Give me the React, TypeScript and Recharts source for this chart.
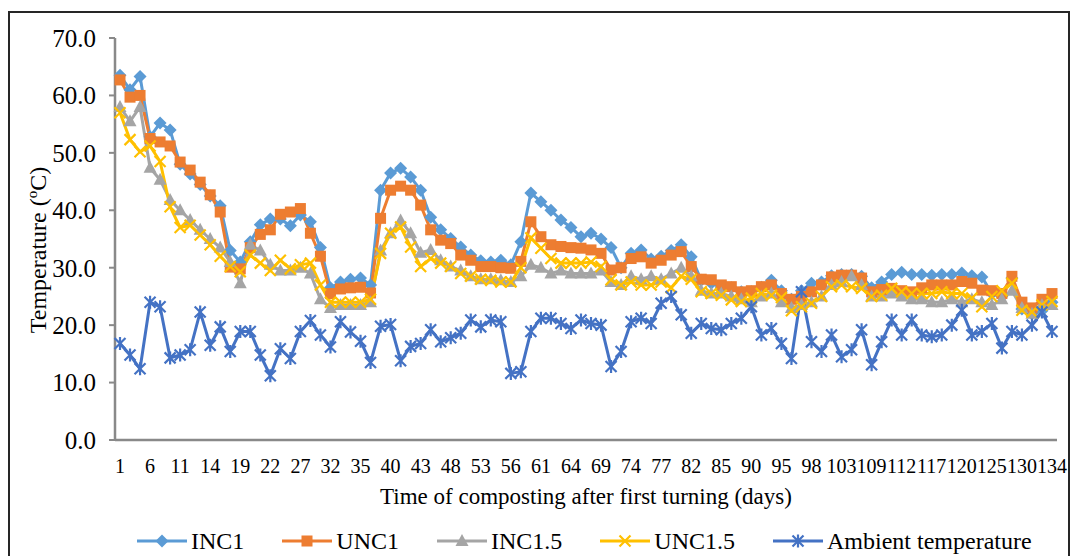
import React from 'react';
import { LineChart, Line, XAxis, YAxis, Label } from 'recharts';

// sampling days after first turning (only every third one is labelled on the axis)
const days = [
  '1', '3', '4', '6', '8', '9', '11', '12', '13', '14',
  '16', '17', '19', '20', '21', '22', '24', '25', '27', '29',
  '30', '32', '33', '34', '35', '37', '38', '40', '41', '42',
  '43', '45', '46', '48', '50', '51', '53', '54', '55', '56',
  '58', '59', '61', '62', '63', '64', '66', '67', '69', '71',
  '72', '74', '75', '76', '77', '79', '80', '82', '83', '84',
  '85', '87', '88', '90', '92', '93', '95', '96', '97', '98',
  '100', '101', '103', '105', '107', '109', '110', '111', '112', '114',
  '115', '117', '118', '119', '120', '122', '123', '125', '127', '128',
  '130', '131', '133', '134',
];

const inc1 = [
  63.5, 61.0, 63.3, 52.8, 55.2, 54.0, 48.0, 46.3, 44.5, 42.5,
  40.8, 33.0, 31.0, 34.5, 37.5, 38.5, 38.5, 37.3, 39.2, 38.0,
  33.5, 26.5, 27.5, 28.0, 28.2, 27.0, 43.5, 46.5, 47.3, 45.8,
  43.5, 38.8, 36.6, 35.1, 33.6, 32.2, 31.2, 31.0, 31.3, 30.5,
  34.5, 43.0, 41.5, 40.0, 38.3, 37.0, 35.4, 36.0, 35.0, 33.5,
  30.0, 32.5, 33.1, 31.5, 32.0, 33.0, 34.0, 31.9, 27.8, 27.3,
  26.5, 26.5, 25.8, 25.8, 26.6, 27.8, 26.0, 24.5, 26.0, 27.3,
  27.5, 28.6, 28.8, 28.8, 28.5, 26.5, 27.5, 28.8, 29.2, 28.8,
  28.8, 28.7, 28.8, 28.8, 29.1, 28.6, 28.4, 25.5, 25.0, 28.2,
  22.8, 22.0, 22.5, 24.0,
];

const unc1 = [
  62.7, 59.7, 60.0, 52.5, 51.9, 51.2, 48.4, 47.0, 44.9, 42.7,
  39.7, 30.1, 29.8, 33.5, 35.8, 36.6, 39.3, 39.7, 40.3, 36.0,
  32.0, 25.5, 26.3, 26.5, 26.6, 25.6, 38.6, 43.5, 44.2, 43.5,
  40.9, 36.6, 34.8, 34.2, 32.2, 31.3, 30.2, 30.2, 30.0, 29.9,
  31.1, 38.0, 35.4, 34.0, 33.7, 33.5, 33.4, 33.1, 32.5, 29.6,
  30.0, 31.6, 31.9, 30.8, 31.3, 32.2, 32.8, 30.2, 28.0, 27.9,
  27.0, 26.7, 25.8, 26.0, 26.7, 27.0, 25.5, 24.5, 25.0, 25.8,
  27.0, 28.4, 28.7, 28.7, 28.2, 25.8, 26.2, 26.4, 26.0, 25.8,
  26.5, 27.0, 27.0, 27.0, 27.6, 27.3, 26.1, 26.0, 25.5, 28.5,
  24.0, 23.0, 24.5, 25.5,
];

const inc15 = [
  58.0, 55.5, 58.0, 47.4, 45.3, 41.8, 40.0, 38.3, 36.6, 35.0,
  33.5, 31.0, 27.3, 34.0, 33.0, 30.5, 29.5, 29.5, 30.0, 29.0,
  24.5, 23.0, 23.5, 23.5, 23.5, 24.0, 33.0, 36.0, 38.2, 36.0,
  32.6, 33.1, 31.3, 30.2, 29.5, 28.5, 28.0, 28.0, 27.8, 27.5,
  28.5, 30.5, 30.0, 29.0, 29.5, 29.0, 29.0, 29.0, 29.5, 27.5,
  27.0, 28.5, 28.0, 28.5, 28.0, 29.0, 30.0, 28.5, 26.0, 25.5,
  25.5, 25.0, 24.5, 24.0, 25.0, 25.5, 24.0, 23.0, 23.5, 24.0,
  25.0, 27.0, 27.5, 28.5, 27.0, 25.0, 25.0, 25.5, 25.0, 24.5,
  24.5, 24.0, 24.0, 24.5, 24.0, 24.5, 24.0, 23.5, 24.5, 26.0,
  23.0, 22.0, 23.5, 23.5,
];

const unc15 = [
  57.0, 52.3, 50.2, 51.2, 48.5, 40.6, 37.0, 37.4, 35.7, 34.0,
  32.0, 30.2, 29.3, 32.2, 30.8, 29.5, 31.3, 29.8, 30.5, 30.8,
  27.0, 24.0, 24.0, 24.0, 24.0, 24.5, 32.5, 36.0, 37.1, 33.6,
  30.2, 31.6, 30.8, 30.2, 29.0, 28.5, 28.0, 27.8, 27.5, 27.5,
  30.0, 35.2, 33.4, 31.6, 30.8, 30.8, 30.8, 31.0, 30.2, 27.9,
  27.0, 27.5, 27.0, 27.0, 27.5, 26.5, 28.5, 28.0, 25.8, 25.5,
  25.2, 24.4, 24.1, 24.7, 25.5, 25.2, 24.8, 22.5, 23.2, 23.8,
  25.0, 26.7, 27.0, 26.7, 26.4, 25.0, 25.2, 26.4, 25.8, 25.5,
  25.5, 25.5, 25.8, 25.5, 25.5, 24.7, 23.2, 25.0, 26.0, 27.3,
  22.6, 22.3, 23.5, 24.1,
];

const ambient = [
  16.8, 14.8, 12.4, 24.0, 23.2, 14.3, 14.8, 15.7, 22.3, 16.5,
  19.7, 15.4, 18.9, 18.9, 14.8, 11.2, 15.9, 14.2, 18.9, 20.8,
  18.3, 16.2, 20.6, 18.8, 17.2, 13.5, 19.8, 20.1, 13.8, 16.3,
  16.8, 19.2, 17.1, 17.8, 18.6, 20.9, 19.7, 20.9, 20.6, 11.6,
  11.9, 18.9, 21.2, 21.2, 20.3, 19.4, 20.9, 20.3, 20.0, 12.8,
  15.4, 20.6, 21.2, 20.3, 23.8, 25.0, 21.8, 18.6, 20.3, 19.4,
  19.2, 20.3, 21.2, 23.2, 18.3, 19.4, 16.8, 14.2, 25.8, 17.1,
  15.4, 18.3, 14.5, 15.7, 19.2, 13.1, 17.1, 20.9, 18.3, 20.9,
  18.3, 18.0, 18.3, 20.0, 22.6, 18.3, 18.9, 20.3, 16.0, 18.9,
  18.3, 20.0, 22.3, 18.9,
];

const yTicks = [0, 10, 20, 30, 40, 50, 60, 70];

// the source axis draws a fine comb of minor ticks, one per day
const combTicks = Array.from({ length: 135 }, (_, i) => i);

type Shape = 'diamond' | 'square' | 'triangle' | 'x' | 'star';

const series: { key: string; name: string; color: string; shape: Shape; values: number[] }[] = [
  { key: 'inc1', name: 'INC1', color: '#5B9BD5', shape: 'diamond', values: inc1 },
  { key: 'unc1', name: 'UNC1', color: '#ED7D31', shape: 'square', values: unc1 },
  { key: 'inc15', name: 'INC1.5', color: '#A5A5A5', shape: 'triangle', values: inc15 },
  { key: 'unc15', name: 'UNC1.5', color: '#FFC000', shape: 'x', values: unc15 },
  { key: 'ambient', name: 'Ambient temperature', color: '#4472C4', shape: 'star', values: ambient },
];

const data = days.map((day, i) => {
  const row: Record<string, string | number> = { day };
  series.forEach((s) => {
    row[s.key] = s.values[i];
  });
  return row;
});

const FONT = 'Liberation Serif, DejaVu Serif';
const AXIS = '#898989';

function Marker({ shape, color, cx, cy }: { shape: Shape; color: string; cx: number; cy: number }) {
  if (shape === 'diamond') {
    const r = 6.5;
    return <path d={`M${cx},${cy - r}L${cx + r},${cy}L${cx},${cy + r}L${cx - r},${cy}Z`} fill={color} />;
  }
  if (shape === 'square') {
    return <rect x={cx - 5.5} y={cy - 5.5} width={11} height={11} fill={color} />;
  }
  if (shape === 'triangle') {
    return <path d={`M${cx},${cy - 7}L${cx + 6.5},${cy + 5}L${cx - 6.5},${cy + 5}Z`} fill={color} />;
  }
  const r = 5.5;
  let d = `M${cx - r},${cy - r}L${cx + r},${cy + r}M${cx - r},${cy + r}L${cx + r},${cy - r}`;
  if (shape === 'star') d += `M${cx},${cy - r - 1}L${cx},${cy + r + 1}`;
  return <path d={d} stroke={color} strokeWidth={2.2} fill="none" />;
}

const makeDot = (shape: Shape, color: string, key: string) => (props: any) => {
  const { cx, cy, index } = props;
  if (cx == null || cy == null) return <g key={`${key}-${index}`} />;
  return (
    <g key={`${key}-${index}`}>
      <Marker shape={shape} color={color} cx={cx} cy={cy} />
    </g>
  );
};

const YTitle = () => (
  <text
    x={46}
    y={250}
    transform="rotate(-90, 46, 250)"
    textAnchor="middle"
    style={{ fontFamily: FONT, fontSize: 24 }}
    fill="#000"
  >
    <tspan>Temperature (</tspan>
    <tspan style={{ fontSize: 15 }} dy={-9}>o</tspan>
    <tspan dy={9}>C)</tspan>
  </text>
);

function LegendRow() {
  return (
    <div
      style={{
        position: 'absolute',
        left: 137,
        top: 527,
        height: 28,
        display: 'flex',
        alignItems: 'center',
        gap: 38,
        fontFamily: FONT,
        fontSize: 24,
        color: '#000',
        whiteSpace: 'nowrap',
      }}
    >
      {series.map((s) => (
        <div key={s.key} style={{ display: 'flex', alignItems: 'center' }}>
          <svg width={50} height={20}>
            <line x1={0} y1={10} x2={50} y2={10} stroke={s.color} strokeWidth={3} />
            <Marker shape={s.shape} color={s.color} cx={25} cy={10} />
          </svg>
          <span style={{ marginLeft: 4, lineHeight: '28px' }}>{s.name}</span>
        </div>
      ))}
    </div>
  );
}

export default function App() {
  return (
    <div
      style={{
        position: 'absolute',
        left: 0,
        top: 0,
        width: 1070,
        height: 556,
        overflow: 'hidden',
        background: '#fff',
        fontFamily: FONT,
      }}
    >
      <div
        style={{
          position: 'absolute',
          left: 8,
          top: 11,
          width: 1062,
          height: 620,
          border: '2px solid #262626',
          boxSizing: 'border-box',
        }}
      />
      <div style={{ position: 'absolute', left: 0, top: 0 }}>
        <LineChart width={1070} height={556} data={data} margin={{ top: 38, right: 13, left: 0, bottom: 52 }}>
          <XAxis
            xAxisId="comb"
            type="number"
            domain={[0, 134]}
            ticks={combTicks}
            interval={0}
            height={0}
            axisLine={false}
            tick={false}
            tickLine={{ stroke: AXIS, strokeWidth: 2 }}
            tickSize={6}
          />
          <XAxis
            dataKey="day"
            interval={2}
            padding={{ left: 5, right: 5 }}
            height={64}
            axisLine={{ stroke: AXIS, strokeWidth: 2.5 }}
            tickLine={{ stroke: 'none' }}
            tickSize={6}
            tickMargin={13}
            tick={{ fill: '#000', fontSize: 20, style: { fontFamily: FONT } }}
          >
            <Label
              value="Time of composting after first turning (days)"
              position="insideBottom"
              offset={0}
              fill="#000"
              style={{ fontFamily: FONT, fontSize: 23 }}
            />
          </XAxis>
          <YAxis
            width={115}
            domain={[0, 70]}
            ticks={yTicks}
            interval={0}
            tickFormatter={(v: number) => v.toFixed(1)}
            axisLine={{ stroke: AXIS, strokeWidth: 2.5 }}
            tickLine={{ stroke: AXIS, strokeWidth: 2 }}
            tickSize={6}
            tickMargin={13}
            tick={{ fill: '#000', fontSize: 25, style: { fontFamily: FONT } }}
          >
            <Label content={YTitle} />
          </YAxis>
          {series.map((s) => (
            <Line
              key={s.key}
              type="linear"
              dataKey={s.key}
              name={s.name}
              stroke={s.color}
              strokeWidth={3}
              dot={makeDot(s.shape, s.color, s.key)}
              activeDot={false}
              isAnimationActive={false}
            />
          ))}
        </LineChart>
      </div>
      <LegendRow />
    </div>
  );
}
